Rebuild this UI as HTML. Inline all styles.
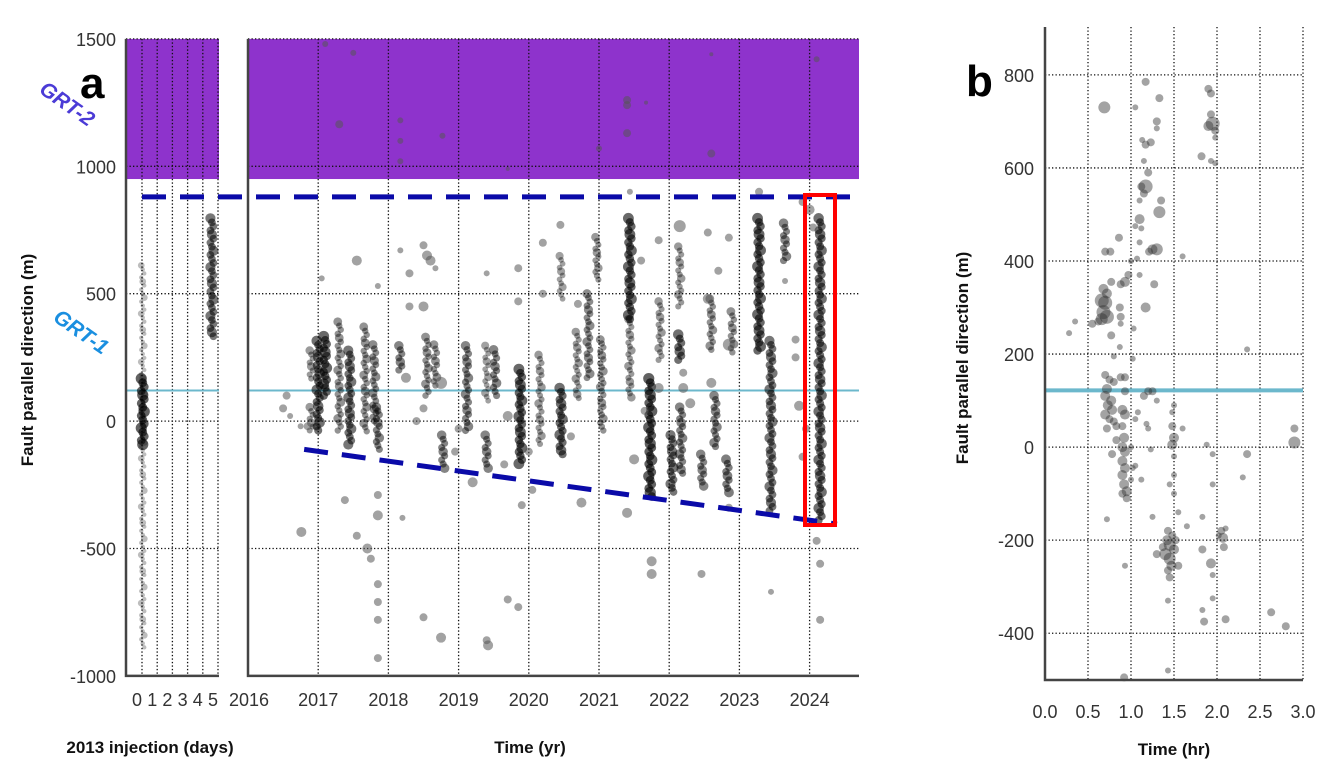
<!DOCTYPE html>
<html><head><meta charset="utf-8"><style>
html,body{margin:0;padding:0;background:#fff;width:1340px;height:769px;overflow:hidden}
svg{display:block;font-family:"Liberation Sans",sans-serif}
</style></head><body>
<svg id="chart" width="1340" height="769" viewBox="0 0 1340 769" xmlns="http://www.w3.org/2000/svg"></svg>
<script>
// ---------- Panel a data ----------
const yearTicks = [2016, 2017, 2018, 2019, 2020, 2021, 2022, 2023, 2024];
const dayTicks = [0, 1, 2, 3, 4, 5];
const aValueTicks = [1500, 1000, 500, 0, -500, -1000];
// streaks: year, topValue, bottomValue, density
const streakYears = [2016.9,2016.9,2017.0,2017.1,2017.3,2017.45,2017.67,2017.8,2017.85,2018.17,2018.55,2018.67,2018.78,2019.12,2019.4,2019.4,2019.52,2019.88,2020.16,2020.46,2020.46,2020.69,2020.85,2020.97,2021.04,2021.44,2021.44,2021.73,2021.87,2022.04,2022.15,2022.15,2022.17,2022.47,2022.6,2022.66,2022.83,2022.9,2023.28,2023.45,2023.65,2024.15];
const streakTop = [277,55,315,333,390,277,370,300,55,296,330,300,-55,296,-55,296,280,204,260,648,130,350,500,722,320,796,400,167,470,-55,685,340,55,-130,480,100,-150,430,796,315,777,796];
const streakBottom = [167,-37,-37,100,-37,-92,-40,0,-111,200,100,140,-185,-37,-185,80,100,-167,-90,480,-130,90,170,555,-37,400,93,-296,240,-278,450,240,-205,-255,280,-100,-280,270,277,-352,630,-389];
const streakWeight = [0.45,0.45,0.75,0.8,0.5,0.7,0.5,0.55,0.6,0.6,0.5,0.5,0.6,0.6,0.6,0.4,0.6,0.8,0.45,0.4,0.75,0.45,0.55,0.45,0.5,0.8,0.45,0.85,0.45,0.7,0.45,0.75,0.6,0.6,0.5,0.6,0.65,0.5,0.8,0.7,0.6,0.75];
const dayStreakDays = [0.05, 0.05, 4.6];
const dayStreakTop = [167, 611, 796];
const dayStreakBottom = [-92, -888, 333];
const dayStreakWeight = [0.85, 0.2, 0.7];
// scattered events: year, value, size
const ptYears = [2016.76,2017.55,2017.05,2018.55,2018.6,2018.5,2018.3,2018.17,2018.5,2018.67,2017.85,2018.3,2017.38,2017.55,2017.7,2017.75,2017.85,2017.85,2018.2,2017.85,2017.85,2017.85,2017.85,2018.5,2018.75,2016.5,2016.55,2016.6,2016.75,2016.85,2018.25,2018.5,2018.75,2018.4,2019.2,2019.42,2019.4,2019.7,2019.85,2019.9,2020.05,2019.65,2020.75,2021.4,2021.75,2021.75,2021.5,2022.46,2022.85,2023.45,2024.15,2024.15,2024.1,2023.9,2023.28,2021.44,2022.15,2021.85,2022.55,2022.85,2020.2,2020.45,2019.85,2019.4,2019.85,2020.2,2020.7,2021.6,2022.55,2022.7,2023.65,2023.8,2023.8,2023.85,2023.95,2023.9,2024.0,2024.05,2022.85,2022.6,2021.85,2021.65,2020.0,2020.6,2019.7,2019.0,2018.95,2022.2,2022.3,2022.2,2017.1,2017.5,2017.3,2018.17,2018.17,2018.17,2018.77,2019.7,2021.4,2021.4,2021.4,2021.67,2021.0,2022.6,2022.6,2024.1];
const ptValues = [-435,630,560,650,630,690,580,670,450,600,530,450,-310,-450,-500,-540,-370,-290,-380,-640,-710,-780,-930,-770,-850,50,100,20,-20,-20,170,50,150,0,-240,-880,-860,-700,-730,-330,-270,-170,-320,-360,-550,-600,-150,-600,-340,-670,-780,-560,-470,860,900,900,765,710,740,720,700,770,600,580,470,500,460,630,480,590,550,320,250,60,-30,-140,830,760,300,150,130,40,-120,-60,20,-30,-120,130,70,190,1480,1445,1165,1180,1100,1020,1120,990,1260,1240,1130,1250,1070,1050,1440,1420];
const ptSizes = [5,5,3,5,5,4,4,3,5,3,3,4,4,4,5,4,5,4,3,4,4,4,4,4,5,4,4,3,3,4,5,4,6,4,5,5,4,4,4,4,4,4,5,5,5,5,5,4,4,3,4,4,4,4,4,3,6,4,4,4,4,4,4,3,4,4,4,4,5,4,3,4,4,5,4,4,5,4,6,5,5,4,4,4,5,4,4,5,5,4,3,3,4,3,3,3,3,2,4,4,4,2,3,4,2,3];

// ---------- Panel b data ----------
const hrTicks = [0.0, 0.5, 1.0, 1.5, 2.0, 2.5, 3.0];
const bValueTicks = [800, 600, 400, 200, 0, -200, -400];
const bHours = [0.69,1.17,1.33,1.05,1.3,1.3,1.13,1.17,1.23,1.15,1.2,1.17,1.12,1.15,1.1,1.35,1.33,1.1,1.05,1.12,1.1,1.25,1.3,1.21,1.6,0.7,0.76,0.86,1.0,1.07,0.97,0.93,0.88,0.77,1.1,1.27,1.17,0.68,0.72,0.66,0.7,0.68,0.72,0.66,0.62,0.55,0.35,0.28,0.77,0.87,0.88,0.88,0.8,0.87,1.03,1.02,0.7,0.75,0.8,0.72,0.7,0.77,0.73,0.78,0.7,0.75,0.8,0.72,0.83,0.88,0.93,0.93,0.9,0.93,0.9,0.92,0.9,0.93,0.9,0.93,0.9,0.92,0.95,0.9,0.95,1.0,1.02,1.05,1.0,0.83,0.78,1.15,1.2,1.25,1.3,1.08,1.05,1.18,1.2,1.23,1.12,1.25,0.72,0.93,1.48,1.5,1.48,1.5,1.48,1.5,1.5,1.45,1.5,1.6,1.55,1.43,1.42,1.45,1.4,1.45,1.5,1.47,1.43,1.45,1.55,1.52,1.48,1.3,1.37,1.43,1.43,1.65,1.83,1.83,1.93,1.95,1.95,1.83,1.85,2.1,2.05,2.07,2.08,2.02,2.1,1.95,1.95,1.88,2.35,2.3,2.63,2.8,2.9,2.9,2.35,0.92,1.9,1.93,1.93,1.95,1.9,1.98,1.98,1.82,1.93,1.98];
const bValues = [730,785,750,730,700,685,660,650,655,615,590,560,560,545,530,530,505,490,475,470,440,425,425,420,410,420,420,450,400,405,370,355,350,355,370,350,300,340,330,315,310,290,280,275,270,265,270,245,240,300,280,265,195,215,255,190,155,145,140,125,110,100,90,80,70,60,55,40,45,150,150,120,80,70,45,20,0,-10,-30,-45,-60,-80,-95,-100,-110,-70,-45,-40,0,15,-15,110,120,120,100,75,60,50,40,-5,-70,-150,-155,-255,75,90,45,20,5,-20,-60,-80,-100,40,-140,-180,-200,-210,-230,-240,-220,-255,-265,-280,-255,-200,-190,-230,-215,-330,-480,-170,-150,-220,-250,-275,-325,-350,-375,-370,-180,-195,-215,-190,-175,-80,-15,5,-15,-65,-355,-385,10,40,210,-495,770,760,715,695,690,680,665,625,615,610];
const bSizes = [6,4,4,3,4,3,3,4,4,3,4,7,4,4,3,4,6,5,3,3,3,5,6,4,3,4,4,4,3,3,4,5,4,4,3,4,5,5,5,7,7,7,7,6,4,4,3,3,4,4,4,3,3,3,3,3,4,4,4,5,5,5,5,5,5,4,4,4,4,4,4,4,5,5,4,5,5,5,5,5,5,5,5,4,4,3,3,3,3,4,4,4,4,4,3,3,3,3,3,3,3,3,3,3,3,3,4,5,5,3,3,3,3,3,3,4,5,6,6,6,5,5,4,4,4,4,4,4,4,3,3,3,3,4,5,3,3,3,4,4,4,5,4,3,3,3,3,3,4,3,4,4,6,4,3,4,4,4,4,7,5,4,3,4,3,3];

// ---------- axis functions ----------
const yA = v => 421.1 - v * 0.2548;
const xYear = y => 248 + (y - 2016) * 70.2;
const xDay = d => 142 + d * 15.2;
const xHr = h => 1045 + h * 86;
const yB = v => 447.1 - v * 0.4653;

const NS = 'http://www.w3.org/2000/svg';
const svg = document.getElementById('chart');
function mk(tag, attrs, parent) {
  const e = document.createElementNS(NS, tag);
  for (const k in attrs) e.setAttribute(k, attrs[k]);
  (parent || svg).appendChild(e);
  return e;
}
function txt(s, attrs, parent) { const t = mk('text', attrs, parent); t.textContent = s; return t; }
const dot = {stroke:'#111','stroke-width':1.3,'stroke-dasharray':'1.3 2.2'};

// ----- Panel a -----
const gA = mk('g', {});


const purpleL = mk('rect', {x:126, y:yA(1500), width:93, height:yA(950)-yA(1500), fill:'#8e33cc'}, gA);


const purpleR = mk('rect', {x:248, y:yA(1500), width:611, height:yA(950)-yA(1500), fill:'#8e33cc'}, gA);



aValueTicks.forEach(v => {
  if (v === -1000) return;
  const l1 = mk('line', Object.assign({x1:126, x2:219, y1:yA(v), y2:yA(v)}, dot), gA);
  
  
  const l2 = mk('line', Object.assign({x1:248, x2:859, y1:yA(v), y2:yA(v)}, dot), gA);
  
  
});
dayTicks.forEach(d => {
  const l = mk('line', Object.assign({x1:xDay(d), x2:xDay(d), y1:yA(1500), y2:yA(-1000)}, dot), gA);
  
  
});
yearTicks.forEach(y => {
  if (y === 2016) return;
  const l = mk('line', Object.assign({x1:xYear(y), x2:xYear(y), y1:yA(1500), y2:yA(-1000)}, dot), gA);
  
  
});

const g1a = mk('line', {x1:126, x2:219, y1:yA(120), y2:yA(120), stroke:'#6cb8cc','stroke-width':2}, gA);


const g1b = mk('line', {x1:248, x2:859, y1:yA(120), y2:yA(120), stroke:'#6cb8cc','stroke-width':2}, gA);



function drawStreak(x, yTop, yBot, w, name) {
  const g = mk('g', {}, gA);
  
  
  const step = 4;
  const n = Math.max(1, Math.round((yBot - yTop) / step));
  for (let k = 0; k <= n; k++) {
    const cy = yTop + (yBot - yTop) * k / n;
    const off = ((k % 3) - 1) * 1.5;
    const r = 1.5 + w * 3.4 + ((k % 4 === 0) ? 1.2 : 0);
    mk('circle', {cx:x + off, cy:cy, r:r, fill:'#000', 'fill-opacity':0.15 + w * 0.55}, g);
  }
}
streakYears.forEach((yr, i) => {
  drawStreak(xYear(yr), yA(streakTop[i]), yA(streakBottom[i]), streakWeight[i], 'event-streak');
});
dayStreakDays.forEach((d, i) => {
  drawStreak(xDay(d), yA(dayStreakTop[i]), yA(dayStreakBottom[i]), dayStreakWeight[i], 'event-streak-days');
});
ptYears.forEach((yr, i) => {
  const c = mk('circle', {cx:xYear(yr), cy:yA(ptValues[i]), r:ptSizes[i], fill:'#555','fill-opacity':0.55}, gA);
  
  
});

const dTop = mk('line', {x1:142, x2:853, y1:yA(880), y2:yA(880), stroke:'#0a0aa8','stroke-width':5,'stroke-dasharray':'24 14'}, gA);


const dLow = mk('line', {x1:xYear(2016.8), x2:xYear(2024.39), y1:yA(-111), y2:yA(-404), stroke:'#0a0aa8','stroke-width':5,'stroke-dasharray':'24 14'}, gA);


const red = mk('rect', {x:805, y:195, width:30, height:330, fill:'none', stroke:'#ff0000','stroke-width':4}, gA);



const axL = mk('path', {d:`M126 ${yA(1500)} V${yA(-1000)} H219`, fill:'none', stroke:'#444','stroke-width':2.5}, gA);


const axR = mk('path', {d:`M248 ${yA(1500)} V${yA(-1000)} H859`, fill:'none', stroke:'#444','stroke-width':2.5}, gA);



const lab = {fill:'#333','font-size':18};
aValueTicks.forEach(v => {
  const t = txt(String(v), Object.assign({x:116, y:yA(v)+7, 'text-anchor':'end'}, lab));
  
  
});
dayTicks.forEach(d => {
  const t = txt(String(d), Object.assign({x:xDay(d)-5, y:706, 'text-anchor':'middle'}, lab));
  
  
});
yearTicks.forEach(y => {
  const t = txt(String(y), Object.assign({x:y===2016?xYear(y)+1:xYear(y), y:706, 'text-anchor':'middle'}, lab));
  
  
});
const xt1 = txt('2013 injection (days)', {x:150, y:753, 'text-anchor':'middle','font-size':17,'font-weight':'bold',fill:'#111'});


const xt2 = txt('Time (yr)', {x:530, y:753, 'text-anchor':'middle','font-size':17,'font-weight':'bold',fill:'#111'});


const yt = txt('Fault parallel direction (m)', {x:0, y:0, transform:'translate(33,360) rotate(-90)', 'text-anchor':'middle','font-size':17,'font-weight':'bold',fill:'#111'});


const la = txt('a', {x:80, y:98, 'font-size':44,'font-weight':'bold',fill:'#000'});


const grt2 = txt('GRT-2', {x:0, y:0, transform:'translate(38,92) rotate(35)','font-size':21,'font-weight':'bold','font-style':'italic',fill:'#4b3bd6'});


const grt1 = txt('GRT-1', {x:0, y:0, transform:'translate(52,320) rotate(35)','font-size':21,'font-weight':'bold','font-style':'italic',fill:'#1a8fe0'});



// ----- Panel b -----
const gB = mk('g', {});


bValueTicks.forEach(v => {
  const l = mk('line', Object.assign({x1:1045, x2:xHr(3), y1:yB(v), y2:yB(v)}, dot), gB);
  
  
});
hrTicks.forEach(h => {
  if (h === 0) return;
  const l = mk('line', Object.assign({x1:xHr(h), x2:xHr(h), y1:27, y2:680}, dot), gB);
  
  
});
const cyB = mk('line', {x1:1045, x2:xHr(3), y1:yB(122), y2:yB(122), stroke:'#6cb8cc','stroke-width':4}, gB);


bHours.forEach((h, i) => {
  const c = mk('circle', {cx:xHr(h), cy:yB(bValues[i]), r:bSizes[i], fill:'#333','fill-opacity':0.45}, gB);
  
  
});
const axB = mk('path', {d:`M1045 27 V680 H${xHr(3)}`, fill:'none', stroke:'#444','stroke-width':2.5}, gB);


bValueTicks.forEach(v => {
  const t = txt(String(v), Object.assign({x:1034, y:yB(v)+7, 'text-anchor':'end'}, lab));
  
  
});
hrTicks.forEach(h => {
  const t = txt(h.toFixed(1), Object.assign({x:xHr(h), y:718, 'text-anchor':'middle'}, lab));
  
  
});
const xtb = txt('Time (hr)', {x:1174, y:755, 'text-anchor':'middle','font-size':17,'font-weight':'bold',fill:'#111'});


const ytb = txt('Fault parallel direction (m)', {x:0, y:0, transform:'translate(968,358) rotate(-90)', 'text-anchor':'middle','font-size':17,'font-weight':'bold',fill:'#111'});


const lb = txt('b', {x:966, y:96, 'font-size':44,'font-weight':'bold',fill:'#000'});


</script>
</body></html>
